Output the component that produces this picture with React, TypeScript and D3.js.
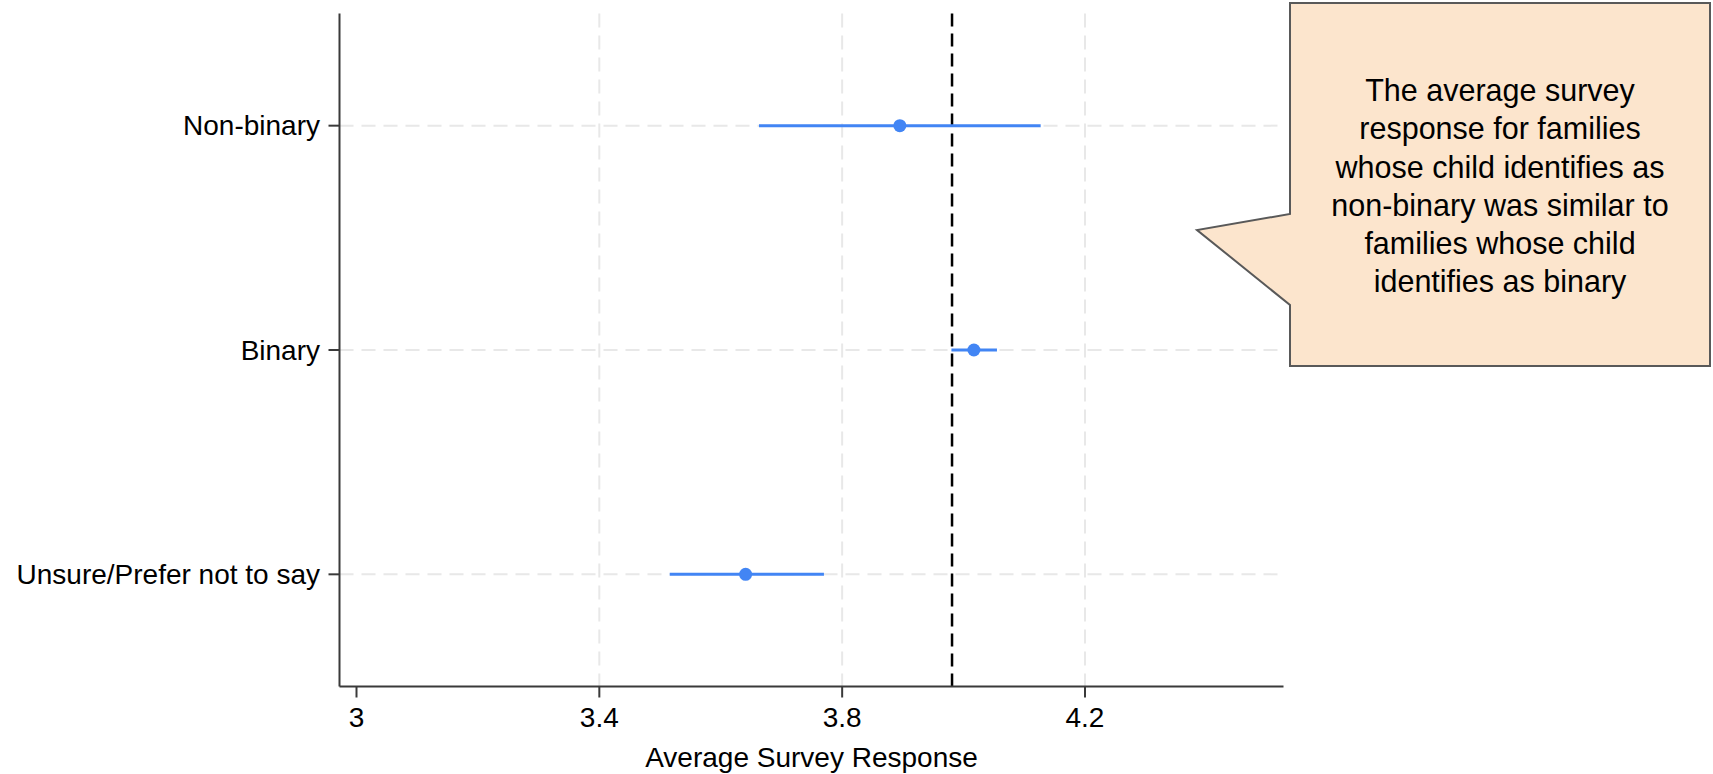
import React from "react";
import * as d3 from "d3";

const categories = ["Non-binary", "Binary", "Unsure/Prefer not to say"];
const means = [3.895, 4.017, 3.641];
const lower = [3.663, 3.98, 3.516];
const upper = [4.127, 4.055, 3.77];
const xTicks = [3, 3.4, 3.8, 4.2];
const xGridTicks = [3.4, 3.8, 4.2];
const referenceValue = 3.981;
const xAxisTitle = "Average Survey Response";
const calloutLines = [
  "The average survey",
  "response for families",
  "whose child identifies as",
  "non-binary was similar to",
  "families whose child",
  "identifies as binary",
];

const W = 1713;
const H = 774;
const FONT = "'Liberation Sans', Arial, Helvetica, sans-serif";

export default function App() {
  const left = 339.5;
  const right = 1283.5;
  const top = 13.5;
  const bottom = 686.5;

  const x = d3.scaleLinear().domain([2.972, 4.527]).range([left, right]);
  const y = d3.scalePoint<string>().domain(categories).range([top, bottom]).padding(0.5);

  const blue = "#4285F4";
  const grid = "#e8e8e8";
  const axisColor = "#3a3a3a";

  // callout geometry
  const bx0 = 1290, bx1 = 1710, by0 = 3, by1 = 366;
  const calloutPath = d3.path();
  calloutPath.moveTo(bx0, by0);
  calloutPath.lineTo(bx1, by0);
  calloutPath.lineTo(bx1, by1);
  calloutPath.lineTo(bx0, by1);
  calloutPath.lineTo(bx0, 305);
  calloutPath.lineTo(1197, 230);
  calloutPath.lineTo(bx0, 214);
  calloutPath.closePath();

  const lineH = 38.3;
  const textCx = (bx0 + bx1) / 2;
  const textMid = 186;

  return (
    <svg
      width={W}
      height={H}
      style={{ position: "absolute", left: 0, top: 0, background: "#fff" }}
      fontFamily={FONT}
    >
      <rect x={0} y={0} width={W} height={H} fill="#fff" />
      {/* vertical gridlines */}
      {xGridTicks.map((t) => (
        <line
          key={"vg" + t}
          x1={x(t)}
          x2={x(t)}
          y1={top}
          y2={bottom}
          stroke={grid}
          strokeWidth={2}
          strokeDasharray="14,8"
        />
      ))}
      {/* horizontal gridlines */}
      {categories.map((c) => (
        <line
          key={"hg" + c}
          x1={left}
          x2={right}
          y1={y(c)}
          y2={y(c)}
          stroke={grid}
          strokeWidth={2}
          strokeDasharray="14,8"
        />
      ))}
      {/* reference line */}
      <line
        x1={x(referenceValue)}
        x2={x(referenceValue)}
        y1={top}
        y2={bottom}
        stroke="#000"
        strokeWidth={2.5}
        strokeDasharray="13,7"
      />
      {/* CIs and points */}
      {categories.map((c, i) => (
        <g key={"pt" + c}>
          <line
            x1={x(lower[i])}
            x2={x(upper[i])}
            y1={y(c)}
            y2={y(c)}
            stroke={blue}
            strokeWidth={3}
          />
          <circle cx={x(means[i])} cy={y(c)} r={6.5} fill={blue} />
        </g>
      ))}
      {/* axes */}
      <line x1={left} x2={left} y1={top} y2={bottom} stroke={axisColor} strokeWidth={2} />
      <line x1={left} x2={right} y1={bottom} y2={bottom} stroke={axisColor} strokeWidth={2} />
      {categories.map((c) => (
        <g key={"yl" + c}>
          <line x1={left - 11} x2={left} y1={y(c)} y2={y(c)} stroke={axisColor} strokeWidth={2} />
          <text
            x={320}
            y={y(c)}
            dy="0.35em"
            textAnchor="end"
            fontSize={28}
            fill="#000"
          >
            {c}
          </text>
        </g>
      ))}
      {xTicks.map((t) => (
        <g key={"xl" + t}>
          <line x1={x(t)} x2={x(t)} y1={bottom} y2={bottom + 11} stroke={axisColor} strokeWidth={2} />
          <text x={x(t)} y={726.5} textAnchor="middle" fontSize={28} fill="#000">
            {d3.format("")(t)}
          </text>
        </g>
      ))}
      <text x={(left + right) / 2} y={767} textAnchor="middle" fontSize={28} fill="#000">
        {xAxisTitle}
      </text>
      {/* callout */}
      <path d={calloutPath.toString()} fill="#FCE5CD" stroke="#595959" strokeWidth={2} />
      {calloutLines.map((l, i) => (
        <text
          key={"cl" + i}
          x={textCx}
          y={textMid + (i - (calloutLines.length - 1) / 2) * lineH}
          dy="0.35em"
          textAnchor="middle"
          fontSize={30.5}
          fill="#000"
        >
          {l}
        </text>
      ))}
    </svg>
  );
}
